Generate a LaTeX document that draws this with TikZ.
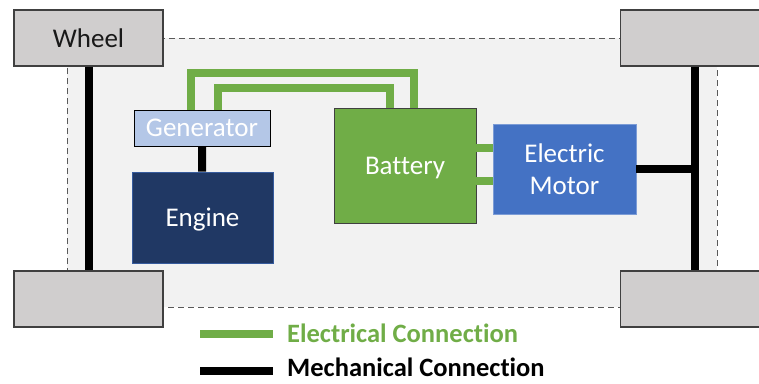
\documentclass[tikz,border=0pt]{standalone}
\usepackage{fontspec}
\setmainfont{Carlito}[Ligatures={NoCommon}]
\usetikzlibrary{positioning}
\definecolor{wheelfill}{RGB}{208, 206, 206}
\definecolor{wheelline}{RGB}{64, 64, 64}
\definecolor{bodyfill}{RGB}{242, 242, 242}
\definecolor{bodyline}{RGB}{89, 89, 89}
\definecolor{gencolor}{RGB}{180, 199, 231}
\definecolor{enginecolor}{RGB}{32, 56, 100}
\definecolor{batterycolor}{RGB}{112, 173, 71}
\definecolor{motorcolor}{RGB}{68, 114, 196}
\definecolor{elecgreen}{RGB}{112, 173, 71}
\tikzset{
boxtext/.style={
  align=center,
  inner sep=0pt,
  text depth=0pt,
  font=\fontsize{27}{32}\selectfont
},
wheelblock/.style={
  draw=wheelline,
  line width=1.2pt,
  fill=wheelfill,
  minimum width=149pt,
  minimum height=56pt,
  boxtext,
  text=black!90
},
genblock/.style={
  draw=black,
  line width=0.9pt,
  fill=gencolor,
  minimum width=136pt,
  minimum height=36pt,
  boxtext,
  text=white
},
engineblock/.style={
  draw=motorcolor!80!black,
  line width=0.6pt,
  fill=enginecolor,
  minimum width=141pt,
  minimum height=91pt,
  boxtext,
  text=white
},
batteryblock/.style={
  draw=black!75,
  line width=0.9pt,
  fill=batterycolor,
  minimum width=142pt,
  minimum height=115pt,
  boxtext,
  text=white
},
motorblock/.style={
  draw=motorcolor!70!white,
  line width=0.6pt,
  fill=motorcolor,
  minimum width=143pt,
  minimum height=90pt,
  boxtext,
  text=white
},
elec/.style={
  draw=elecgreen,
  line width=8pt
},
mech/.style={
  draw=black,
  line width=8pt
},
legendtext/.style={
  anchor=west,
  inner sep=0pt,
  font=\fontsize{26.5}{32}\selectfont\bfseries
}
}

\begin{document}
\begin{tikzpicture}[x=1pt, y=-1pt]
  \useasboundingbox (0,0) rectangle (759,383);

  % car body
  \path[draw=bodyline, dash pattern=on 6pt off 4pt, line width=0.9pt, fill=bodyfill]
    (67,38) rectangle (717,307);

  % wheels
  \node[wheelblock] (wheelTL) at (88.5,38) {Wheel};
  \node[wheelblock] (wheelTR) at (695,38) {};
  \node[wheelblock] (wheelBL) at (88.5,299) {};
  \node[wheelblock] (wheelBR) at (695,299) {};

  % components
  \node[genblock] (gen) at (202,128) {Generator};
  \node[engineblock] (engine) at (202.5,217.5) {Engine};
  \node[batteryblock] (battery) at (405,165.5) {Battery};
  \node[motorblock] (motor) at (564.5,169) {Electric\\Motor};

  % mechanical connections
  \draw[mech] (wheelTL) -- (wheelBL);
  \draw[mech] (wheelTR) -- (wheelBR);
  \draw[mech] (gen) -- (engine);
  \draw[mech] (motor.east) -- (motor.east -| wheelTR);

  % electrical connections
  \draw[elec] (gen.north -| 191,0) |- (414,73) -- (battery.north -| 414,0);
  \draw[elec] (gen.north -| 218,0) |- (390,88) -- (battery.north -| 390,0);
  \draw[elec] (battery.east |- 0,148) -- (motor.west |- 0,148);
  \draw[elec] (battery.east |- 0,181) -- (motor.west |- 0,181);

  % legend
  \coordinate (legElec) at (200,334);
  \coordinate (legMech) at (200,371);
  \draw[elec] (legElec) -- ++(73,0);
  \draw[mech] (legMech) -- ++(73,0);
  \node[legendtext, text=elecgreen] (legElecText) at (287,333) {Electrical Connection};
  \node[legendtext, text=black] (legMechText) at (287,367) {Mechanical Connection};
\end{tikzpicture}
\end{document}
